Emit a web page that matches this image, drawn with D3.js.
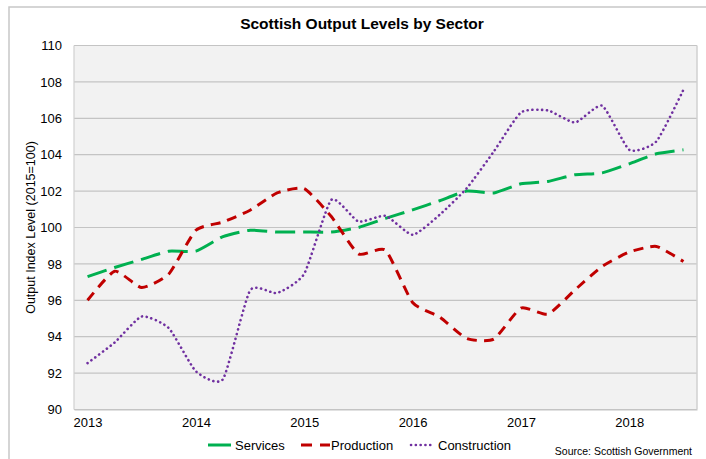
<!DOCTYPE html>
<html>
<head>
<meta charset="utf-8">
<script src="https://cdn.jsdelivr.net/npm/d3@7"></script>
<style>
  body { margin: 0; background: #fff; }
  svg text { font-family: "Liberation Sans", Arial, sans-serif; fill: #000; }
</style>
</head>
<body>
<div id="chart"></div>
<script>
// quarters 2013 Q1 .. 2018 Q3
const quarters = [
  "2013 Q1", "2013 Q2", "2013 Q3", "2013 Q4",
  "2014 Q1", "2014 Q2", "2014 Q3", "2014 Q4",
  "2015 Q1", "2015 Q2", "2015 Q3", "2015 Q4",
  "2016 Q1", "2016 Q2", "2016 Q3", "2016 Q4",
  "2017 Q1", "2017 Q2", "2017 Q3", "2017 Q4",
  "2018 Q1", "2018 Q2", "2018 Q3"
];
const yearLabels = ["2013", "2014", "2015", "2016", "2017", "2018"];
const yTicks = [90, 92, 94, 96, 98, 100, 102, 104, 106, 108, 110];

const services = [97.3, 97.8, 98.25, 98.7, 98.7, 99.5, 99.85, 99.75, 99.75, 99.75, 100.0, 100.5,
  100.97, 101.47, 102.0, 101.9, 102.4, 102.53, 102.9, 103.0, 103.5, 104.05, 104.27];
const production = [96.0, 97.6, 96.7, 97.45, 99.85, 100.3, 100.95, 101.9, 102.13, 100.6, 98.55, 98.75,
  95.88, 95.08, 93.9, 93.87, 95.57, 95.24, 96.58, 97.86, 98.65, 98.96, 98.13];
const construction = [92.55, 93.68, 95.11, 94.47, 92.1, 91.67, 96.54, 96.4, 97.46, 101.52, 100.33, 100.64,
  99.6, 100.7, 102.16, 104.18, 106.32, 106.43, 105.77, 106.69, 104.27, 104.73, 107.57];

const series = [
  {name: "Services", values: services, color: "#00b050", dash: "20,8", cap: "butt", width: 3},
  {name: "Production", values: production, color: "#c00000", dash: "10,7", cap: "butt", width: 3},
  {name: "Construction", values: construction, color: "#7030a0", dash: "0.1,4.7", cap: "round", width: 2.6}
];

const width = 706, height = 459;
const plot = {left: 74, right: 697, top: 45.5, bottom: 409.5};

let svg = d3.select("#chart").append("svg")
  .attr("width", width).attr("height", height);

// outer chart frame
svg.append("rect")
  .attr("x", 9).attr("y", 7).attr("width", 720).attr("height", 470)
  .attr("fill", "#fff").attr("stroke", "#c8c8c8").attr("stroke-width", 1.5);

let x = d3.scalePoint().domain(quarters).range([plot.left, plot.right]).padding(0.5);
let y = d3.scaleLinear().domain([90, 110]).range([plot.bottom, plot.top]);

// plot background
svg.append("rect")
  .attr("x", plot.left).attr("y", plot.top)
  .attr("width", plot.right - plot.left).attr("height", plot.bottom - plot.top)
  .attr("fill", "#f2f2f2");

// grid
svg.append("g").selectAll("line")
  .data(yTicks)
  .enter().append("line")
  .attr("x1", plot.left).attr("x2", plot.right)
  .attr("y1", d => y(d)).attr("y2", d => y(d))
  .attr("stroke", "#c4c4c4").attr("stroke-width", 1.2);

// plot border left / right
svg.append("line").attr("x1", plot.left).attr("x2", plot.left)
  .attr("y1", plot.top).attr("y2", plot.bottom).attr("stroke", "#d0d0d0").attr("stroke-width", 1.2);
svg.append("line").attr("x1", plot.right).attr("x2", plot.right)
  .attr("y1", plot.top).attr("y2", plot.bottom).attr("stroke", "#d0d0d0").attr("stroke-width", 1.5);

// y axis
let yAxis = d3.axisLeft(y).tickValues(yTicks).tickSize(0).tickPadding(12);
let gy = svg.append("g").attr("transform", `translate(${plot.left},0)`).call(yAxis);
gy.select(".domain").remove();
gy.selectAll("text").style("font-size", "13px").style("font-family", "Liberation Sans, Arial, sans-serif");

// x axis: year labels on first quarter
let xAxis = d3.axisBottom(x)
  .tickValues(yearLabels.map(yr => yr + " Q1"))
  .tickFormat(d => d.slice(0, 4))
  .tickSize(0).tickPadding(8);
let gx = svg.append("g").attr("transform", `translate(0,${plot.bottom})`).call(xAxis);
gx.select(".domain").attr("stroke", "#c4c4c4").attr("stroke-width", 1.2);
gx.selectAll("text").style("font-size", "13px").style("font-family", "Liberation Sans, Arial, sans-serif");

// axis title
svg.append("text")
  .attr("transform", `translate(35,${(plot.top + plot.bottom) / 2}) rotate(-90)`)
  .attr("text-anchor", "middle")
  .style("font-size", "12.5px")
  .text("Output Index Level (2015=100)");

// title
svg.append("text")
  .attr("x", 362).attr("y", 29)
  .attr("text-anchor", "middle")
  .style("font-size", "15.5px").style("font-weight", "bold")
  .text("Scottish Output Levels by Sector");

// lines (Excel-like mild smoothing)
let line = d3.line()
  .x((d, i) => x(quarters[i]))
  .y(d => y(d))
  .curve(d3.curveCardinal.tension(0.45));

svg.append("g").selectAll("path")
  .data(series)
  .enter().append("path")
  .attr("d", d => line(d.values))
  .attr("fill", "none")
  .attr("stroke", d => d.color)
  .attr("stroke-width", d => d.width)
  .attr("stroke-dasharray", d => d.dash)
  .attr("stroke-linecap", d => d.cap);

// legend
const legendPos = [208, 301, 411];
let legend = svg.append("g").selectAll("g")
  .data(series)
  .enter().append("g")
  .attr("transform", (d, i) => `translate(${legendPos[i]},445)`);

legend.append("line")
  .attr("x1", 0).attr("x2", d => d.name === "Production" ? 29 : 23)
  .attr("y1", 0).attr("y2", 0)
  .attr("stroke", d => d.color)
  .attr("stroke-width", d => d.width)
  .attr("stroke-dasharray", d => d.name === "Services" ? null : d.name === "Production" ? "11,8" : d.dash)
  .attr("stroke-linecap", d => d.cap);

legend.append("text")
  .attr("x", d => d.name === "Production" ? 30 : 27)
  .attr("y", 4.5)
  .style("font-size", "13px")
  .text(d => d.name);

// source note
svg.append("text")
  .attr("x", 692).attr("y", 455)
  .attr("text-anchor", "end")
  .style("font-size", "10.5px")
  .text("Source: Scottish Government");
</script>
</body>
</html>
